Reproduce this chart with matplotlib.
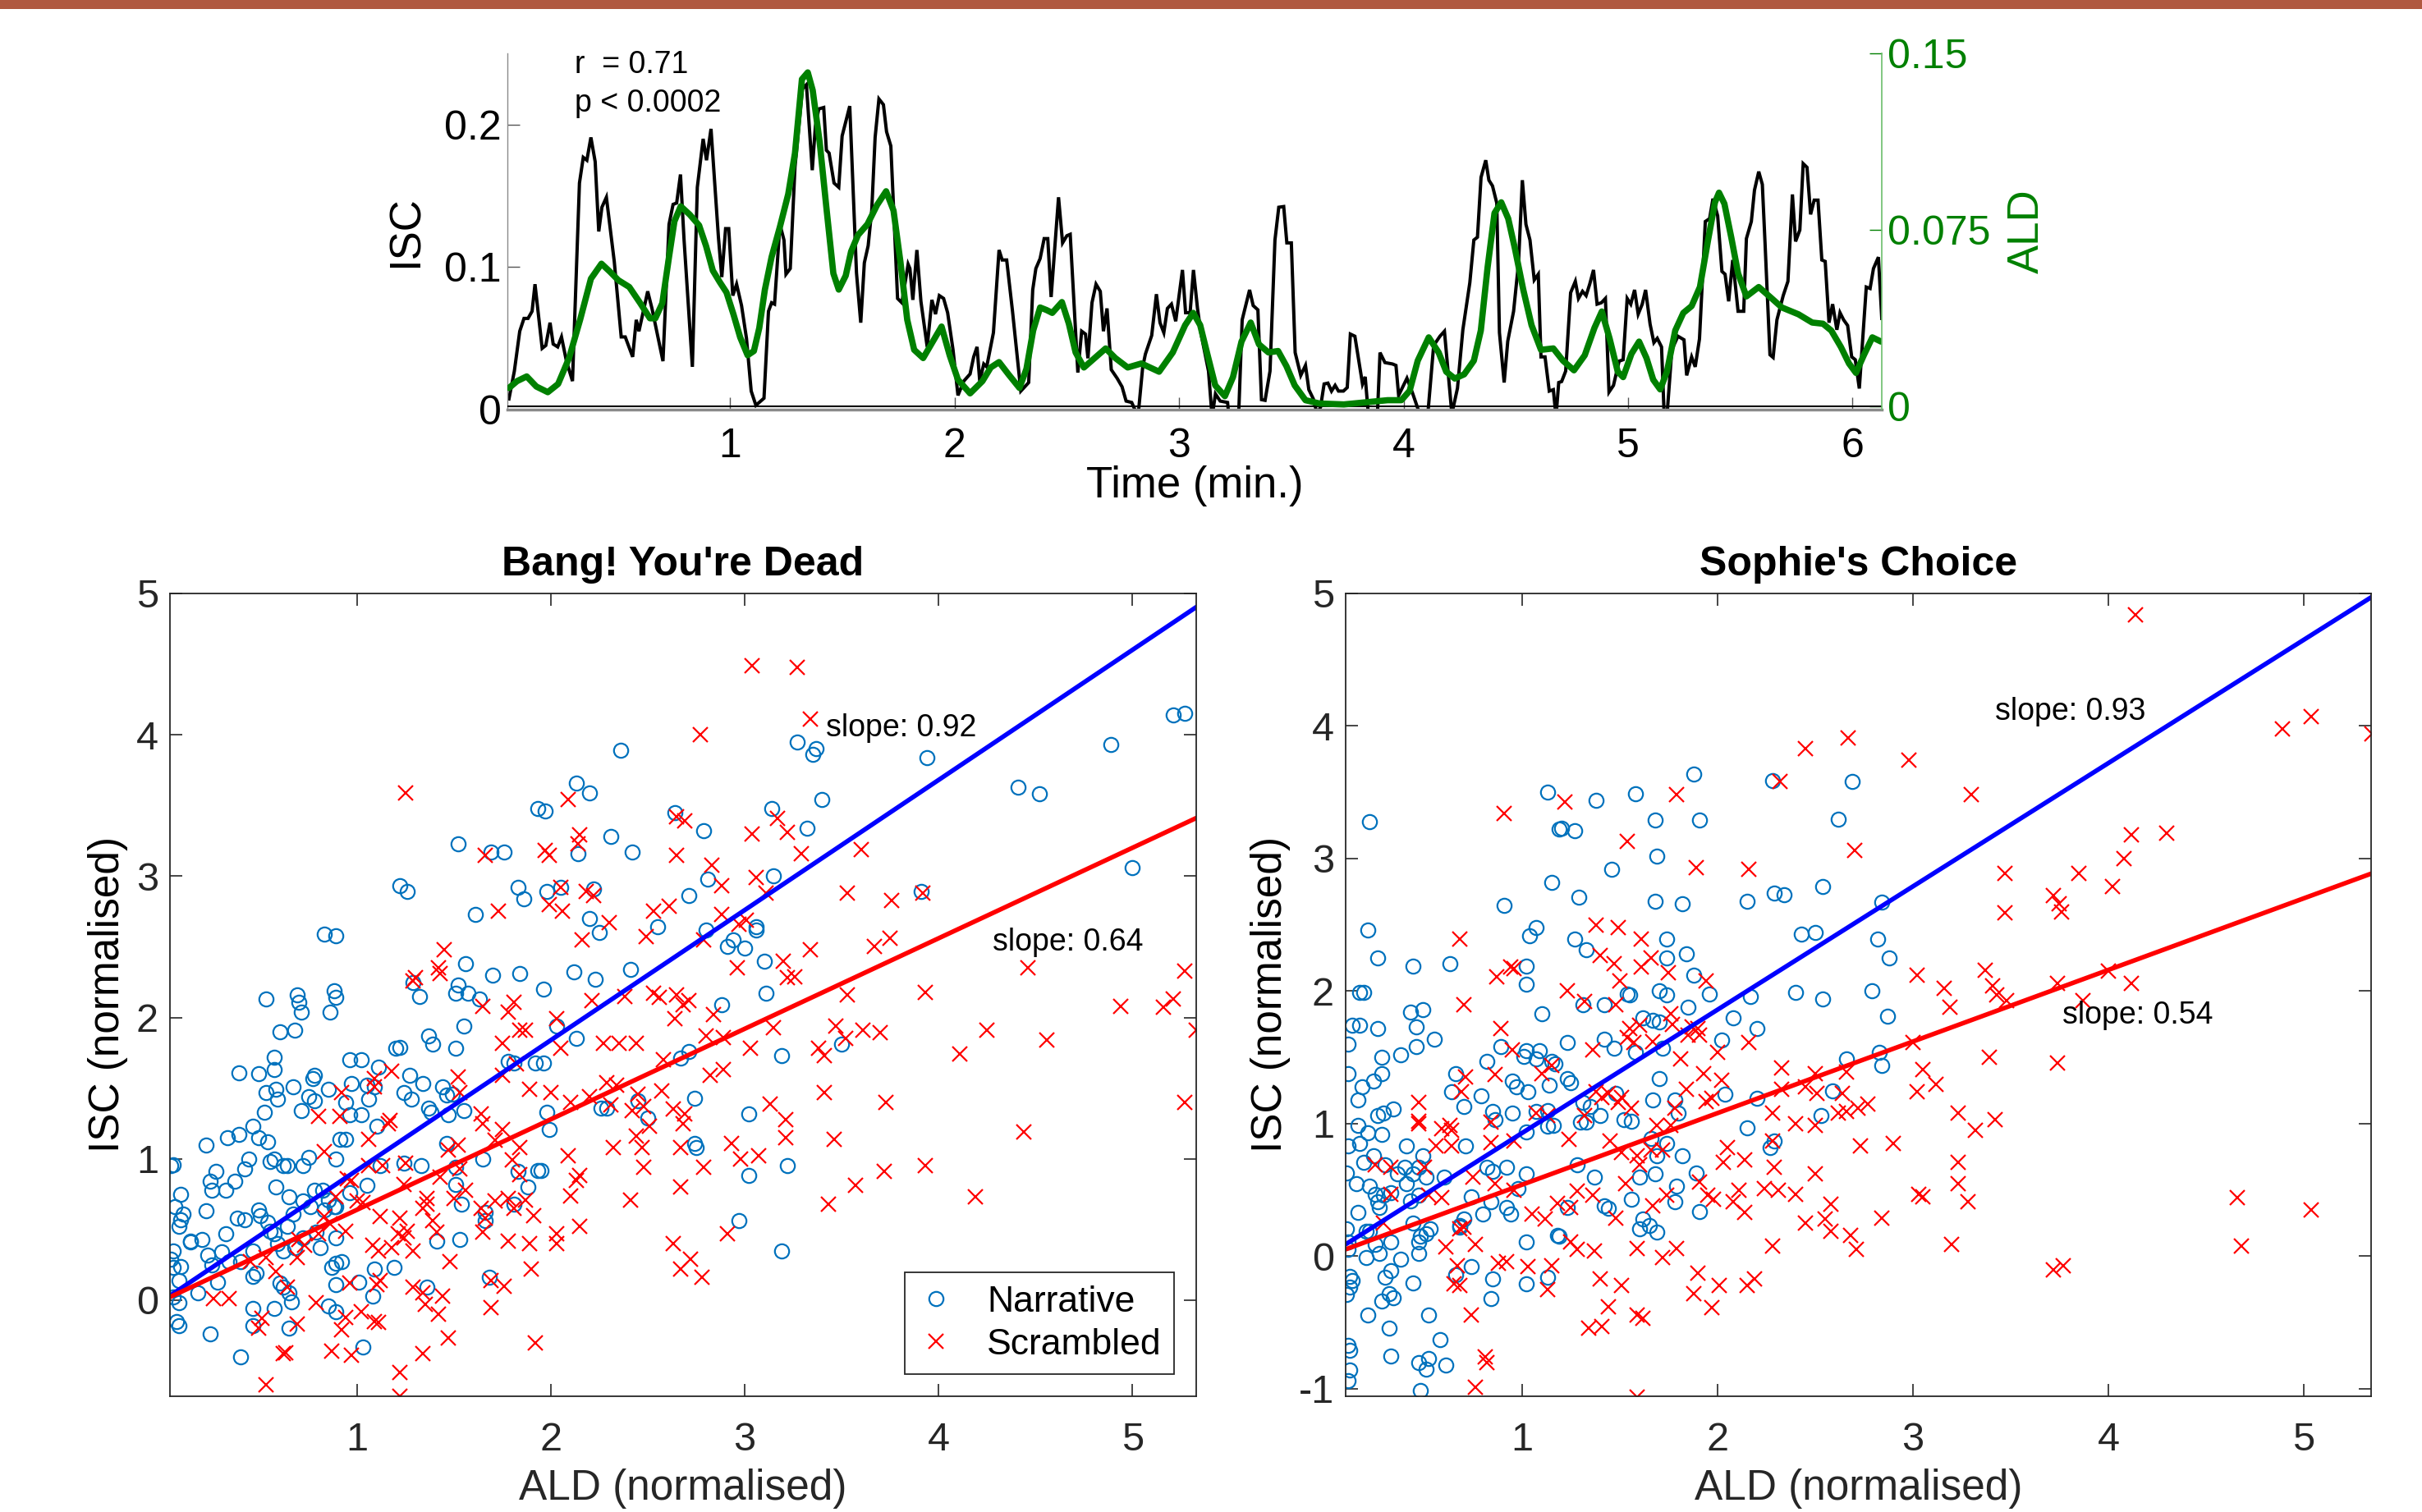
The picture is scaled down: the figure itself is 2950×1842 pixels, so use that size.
import numpy as np
import matplotlib
matplotlib.use('Agg')
import matplotlib.pyplot as plt
from matplotlib.patches import Rectangle

plt.rcParams['font.family'] = ['Liberation Sans', 'DejaVu Sans']

# ---------------- top panel: ISC and ALD time courses (time in minutes) ----------------
isc_trace = np.array([
    (0.015,0.0075),(0.039,0.027),(0.063,0.055),(0.082,0.064),(0.100,0.064),(0.118,0.069),(0.131,0.088),
    (0.163,0.043),(0.179,0.045),(0.198,0.061),(0.212,0.046),(0.232,0.044),(0.249,0.051),(0.271,0.034),
    (0.298,0.020),(0.329,0.159),(0.346,0.177),(0.362,0.175),(0.380,0.191),(0.399,0.174),(0.415,0.125),
    (0.429,0.142),(0.449,0.149),(0.484,0.104),(0.515,0.051),(0.533,0.051),(0.566,0.037),(0.582,0.063),
    (0.594,0.055),(0.612,0.068),(0.633,0.083),(0.652,0.071),(0.701,0.034),(0.728,0.130),(0.746,0.144),
    (0.762,0.145),(0.779,0.165),(0.795,0.119),(0.832,0.030),(0.854,0.156),(0.880,0.190),(0.895,0.175),
    (0.915,0.197),(0.948,0.121),(0.963,0.093),(0.980,0.127),(0.994,0.127),(1.012,0.080),(1.029,0.088),
    (1.051,0.073),(1.073,0.050),(1.094,0.013),(1.115,0.003),(1.151,0.008),(1.171,0.069),(1.185,0.075),
    (1.198,0.074),(1.222,0.130),(1.240,0.119),(1.249,0.095),(1.268,0.099),(1.289,0.170),(1.322,0.225),
    (1.340,0.228),(1.366,0.168),(1.380,0.199),(1.395,0.211),(1.417,0.212),(1.429,0.182),(1.441,0.180),
    (1.463,0.159),(1.484,0.156),(1.499,0.192),(1.533,0.213),(1.563,0.096),(1.582,0.061),(1.598,0.103),
    (1.615,0.115),(1.631,0.140),(1.646,0.191),(1.663,0.218),(1.683,0.214),(1.697,0.195),(1.716,0.185),
    (1.746,0.078),(1.765,0.075),(1.793,0.102),(1.801,0.099),(1.814,0.077),(1.832,0.112),(1.850,0.076),
    (1.878,0.044),(1.899,0.077),(1.915,0.067),(1.932,0.080),(1.951,0.078),(1.969,0.068),(1.993,0.042),
    (2.015,0.010),(2.041,0.020),(2.069,0.025),(2.085,0.037),(2.100,0.044),(2.112,0.020),(2.130,0.032),
    (2.143,0.030),(2.173,0.054),(2.198,0.112),(2.212,0.105),(2.232,0.105),(2.258,0.069),(2.295,0.013),
    (2.330,0.019),(2.348,0.084),(2.362,0.099),(2.381,0.106),(2.399,0.120),(2.415,0.120),(2.430,0.079),
    (2.463,0.149),(2.481,0.117),(2.500,0.122),(2.515,0.123),(2.549,0.026),(2.566,0.055),(2.583,0.053),
    (2.594,0.036),(2.612,0.075),(2.630,0.088),(2.649,0.083),(2.663,0.055),(2.679,0.071),(2.698,0.028),
    (2.724,0.022),(2.746,0.016),(2.764,0.006),(2.789,0.005),(2.817,-0.005),(2.838,0.030),(2.850,0.039),
    (2.878,0.052),(2.899,0.081),(2.915,0.061),(2.932,0.054),(2.948,0.071),(2.966,0.074),(2.985,0.062),
    (3.015,0.098),(3.029,0.068),(3.049,0.068),(3.064,0.098),(3.082,0.071),(3.098,0.053),(3.131,0.027),
    (3.147,-0.005),(3.162,0.011),(3.183,0.006),(3.216,0.005),(3.222,-0.005),(3.265,-0.005),(3.281,0.063),
    (3.314,0.084),(3.330,0.073),(3.351,0.070),(3.367,0.007),(3.383,0.0065),(3.405,0.027),(3.427,0.119),
    (3.444,0.142),(3.466,0.1425),(3.480,0.117),(3.500,0.117),(3.517,0.040),(3.542,0.024),(3.563,0.031),
    (3.578,0.014),(3.598,0.0075),(3.615,-0.003),(3.630,0.0017),(3.646,0.018),(3.663,0.0186),(3.679,0.013),
    (3.695,0.017),(3.710,0.013),(3.732,0.013),(3.749,0.0155),(3.763,0.053),(3.783,0.0515),(3.817,0.018),
    (3.829,0.023),(3.844,-0.005),(3.883,-0.005),(3.895,0.040),(3.917,0.033),(3.951,0.032),(3.966,0.031),
    (3.978,0.010),(4.015,0.022),(4.039,0.012),(4.076,-0.005),(4.107,-0.005),(4.134,0.045),(4.162,0.0515),
    (4.182,0.055),(4.215,-0.003),(4.240,0.015),(4.264,0.056),(4.295,0.089),(4.313,0.119),(4.329,0.121),
    (4.345,0.163),(4.366,0.175),(4.380,0.161),(4.396,0.157),(4.415,0.145),(4.427,0.054),(4.448,0.019),
    (4.464,0.048),(4.490,0.069),(4.512,0.103),(4.529,0.161),(4.545,0.130),(4.563,0.119),(4.582,0.091),
    (4.600,0.095),(4.612,0.037),(4.630,0.037),(4.649,0.013),(4.667,0.014),(4.679,-0.005),(4.691,0.019),
    (4.704,0.0197),(4.722,0.027),(4.744,0.082),(4.765,0.090),(4.779,0.078),(4.797,0.083),(4.813,0.080),
    (4.829,0.088),(4.846,0.098),(4.862,0.074),(4.881,0.075),(4.899,0.078),(4.915,0.0123),(4.935,0.017),
    (4.960,0.034),(4.978,0.035),(4.996,0.078),(5.012,0.074),(5.029,0.084),(5.045,0.067),(5.063,0.074),
    (5.078,0.084),(5.098,0.060),(5.115,0.047),(5.130,0.050),(5.149,0.044),(5.161,-0.005),(5.173,-0.005),
    (5.195,0.042),(5.222,0.0515),(5.249,0.049),(5.261,0.024),(5.283,0.037),(5.299,0.030),(5.318,0.0496),
    (5.344,0.132),(5.363,0.134),(5.378,0.148),(5.399,0.136),(5.418,0.097),(5.432,0.095),(5.448,0.076),
    (5.466,0.105),(5.490,0.069),(5.515,0.069),(5.527,0.120),(5.549,0.132),(5.563,0.154),(5.582,0.167),
    (5.598,0.158),(5.610,0.117),(5.632,0.0385),(5.646,0.0366),(5.663,0.063),(5.691,0.080),(5.712,0.090),
    (5.732,0.151),(5.746,0.118),(5.765,0.126),(5.780,0.1726),(5.797,0.170),(5.813,0.137),(5.829,0.147),
    (5.846,0.147),(5.863,0.105),(5.878,0.104),(5.895,0.061),(5.911,0.074),(5.930,0.056),(5.944,0.068),
    (5.960,0.063),(5.978,0.059),(5.996,0.037),(6.012,0.035),(6.030,0.0148),(6.061,0.086),(6.078,0.085),
    (6.093,0.099),(6.115,0.107),(6.130,0.064)])

ald_trace = np.array([
    (0.015,0.0078),(0.051,0.0107),(0.094,0.0127),(0.137,0.0084),(0.188,0.006),(0.234,0.0095),(0.283,0.0206),
    (0.332,0.0368),(0.380,0.0542),(0.427,0.0606),(0.466,0.0571),(0.502,0.0536),(0.551,0.0507),(0.600,0.0438),
    (0.643,0.0374),(0.667,0.0374),(0.698,0.0438),(0.728,0.0635),(0.752,0.0786),(0.780,0.085),(0.820,0.0815),
    (0.862,0.0769),(0.893,0.0681),(0.923,0.0577),(0.954,0.0528),(0.984,0.0484),(1.015,0.0391),(1.045,0.0293),
    (1.078,0.0217),(1.106,0.0235),(1.130,0.0333),(1.155,0.0496),(1.185,0.0635),(1.222,0.0763),(1.259,0.0902),
    (1.289,0.1076),(1.320,0.139),(1.346,0.1419),(1.368,0.1343),(1.399,0.1123),(1.429,0.0844),(1.460,0.0565),
    (1.484,0.0496),(1.515,0.0555),(1.539,0.0658),(1.570,0.0728),(1.612,0.0774),(1.655,0.0856),(1.695,0.0914),
    (1.728,0.0832),(1.759,0.0612),(1.789,0.0368),(1.820,0.024),(1.860,0.0205),(1.899,0.0269),(1.942,0.0339),
    (1.978,0.0217),(2.015,0.0113),(2.069,0.0055),(2.124,0.0107),(2.161,0.0165),(2.198,0.0188),(2.240,0.0136),
    (2.289,0.0078),(2.320,0.0159),(2.350,0.0322),(2.381,0.042),(2.410,0.0409),(2.435,0.0397),(2.478,0.0443),
    (2.509,0.0351),(2.539,0.0229),(2.576,0.0165),(2.618,0.02),(2.673,0.0246),(2.716,0.0205),(2.771,0.0165),
    (2.832,0.0182),(2.911,0.0147),(2.972,0.0229),(3.027,0.0345),(3.063,0.0397),(3.094,0.0345),(3.124,0.0229),
    (3.161,0.0089),(3.204,0.0043),(3.240,0.0124),(3.278,0.0275),(3.319,0.0356),(3.356,0.0263),(3.398,0.0229),
    (3.441,0.0235),(3.478,0.0171),(3.515,0.0089),(3.563,0.0026),(3.625,0.0012),(3.734,0.0008),(3.832,0.0017),
    (3.929,0.0026),(3.990,0.0026),(4.027,0.0066),(4.063,0.0194),(4.112,0.0293),(4.156,0.0229),(4.190,0.0147),
    (4.228,0.0118),(4.270,0.0136),(4.313,0.0194),(4.344,0.0322),(4.374,0.0589),(4.405,0.0821),(4.435,0.0867),
    (4.466,0.0798),(4.496,0.067),(4.533,0.0496),(4.570,0.0345),(4.612,0.0240),(4.667,0.0246),(4.710,0.0194),
    (4.759,0.0153),(4.807,0.0217),(4.850,0.0333),(4.883,0.0403),(4.918,0.0287),(4.954,0.0147),(4.978,0.0124),
    (5.015,0.0223),(5.049,0.0275),(5.082,0.0205),(5.112,0.0113),(5.143,0.0072),(5.173,0.0147),(5.210,0.0322),
    (5.246,0.0397),(5.283,0.0426),(5.320,0.0507),(5.356,0.0705),(5.387,0.0867),(5.405,0.0908),(5.429,0.0861),
    (5.460,0.0716),(5.490,0.0565),(5.527,0.0467),(5.582,0.0507),(5.637,0.0461),(5.685,0.042),(5.759,0.0391),
    (5.820,0.0356),(5.868,0.0351),(5.905,0.0322),(5.948,0.0252),(5.984,0.0182),(6.015,0.0142),(6.050,0.0217),
    (6.088,0.0293),(6.127,0.0275)])

time_ticks = [1, 2, 3, 4, 5, 6]
isc_ticks = [0, 0.1, 0.2]
isc_ticklabels = ['0', '0.1', '0.2']
ald_ticks = [0, 0.075, 0.15]
ald_ticklabels = ['0', '0.075', '0.15']
stats_text = ['r  = 0.71', 'p < 0.0002']

# ---------------- bottom-left: Bang! You're Dead ----------------
bang_narrative = np.array([
    (5.27,4.15),(5.21,4.14),(4.89,3.93),(3.94,3.84),(4.41,3.63),(4.52,3.58),(5.00,3.06),(2.36,3.89),(3.27,3.95),
    (3.35,3.86),(3.37,3.90),(3.40,3.54),(3.14,3.48),(3.32,3.34),(3.15,3.00),(2.79,3.32),(2.64,3.45),(2.81,2.98),
    (2.71,2.86),(2.80,2.62),(2.91,2.50),(2.94,2.55),(3.00,2.49),(3.06,2.64),(3.06,2.62),(3.10,2.40),(3.11,2.17),
    (2.88,2.09),(3.22,0.95),(3.19,1.73),(3.02,1.32),(3.02,0.88),(2.97,0.56),(3.19,0.35),(3.50,1.81),(3.91,2.89),
    (2.13,3.66),(2.20,3.59),(1.93,3.48),(1.97,3.46),(1.52,3.23),(1.69,3.17),(1.76,3.17),(2.31,3.28),(2.42,3.17),
    (2.14,3.16),(1.22,2.93),(1.26,2.89),(1.83,2.92),(1.86,2.84),(1.98,2.89),(2.05,2.92),(2.22,2.91),(1.61,2.73),
    (2.20,2.70),(2.25,2.60),(2.55,2.64),(0.83,2.59),(0.89,2.58),(1.56,2.38),(2.41,2.34),(1.70,2.30),(1.84,2.31),
    (2.12,2.32),(2.23,2.27),(1.29,2.25),(1.52,2.23),(1.51,2.17),(1.57,2.17),(1.63,2.13),(1.32,2.15),(1.96,2.20),
    (0.53,2.13),(0.88,2.19),(0.89,2.14),(0.69,2.16),(0.70,2.11),(0.71,2.04),(0.86,2.04),(1.55,1.94),(2.03,1.94),
    (0.60,1.90),(0.68,1.91),(1.37,1.87),(1.39,1.81),(1.51,1.78),(1.20,1.78),(1.22,1.79),(1.11,1.65),(1.02,1.70),
    (0.96,1.70),(1.81,1.68),(1.92,1.68),(2.13,1.85),(0.39,1.61),(0.49,1.60),(0.57,1.72),(0.57,1.63),(0.53,1.47),
    (0.58,1.49),(0.67,1.51),(0.77,1.57),(0.78,1.59),(0.85,1.49),(0.75,1.44),(0.78,1.41),(0.52,1.33),(0.59,1.42),
    (0.71,1.34),(0.94,1.40),(0.97,1.53),(0.96,1.31),(1.05,1.52),(1.09,1.51),(1.02,1.31),(1.06,1.42),(1.10,1.23),
    (1.24,1.47),(1.27,1.59),(1.34,1.53),(1.28,1.42),(1.37,1.36),(1.44,1.51),(1.46,1.45),(1.49,1.46),(1.55,1.34),
    (1.47,1.31),(1.33,0.95),(1.46,1.11),(1.51,0.94),(1.51,0.82),(1.38,1.33),(1.24,0.97),(1.12,0.95),(1.05,0.81),
    (0.96,0.76),(0.88,0.66),(0.89,0.66),(0.85,0.71),(0.83,0.64),(0.76,0.66),(0.72,0.70),(0.67,0.61),(0.64,0.52),
    (0.57,0.47),(0.54,0.55),(0.49,0.64),(0.50,0.60),(0.42,0.57),(0.38,0.58),(0.32,0.47),(0.22,0.63),(0.09,0.75),
    (0.06,0.66),(0.10,0.61),(0.09,0.57),(0.14,0.41),(0.04,0.95),(0.05,0.96),(0.22,1.10),(0.27,0.91),(0.24,0.84),
    (0.25,0.78),(0.32,0.78),(0.37,0.84),(0.42,0.93),(0.46,1.23),(0.49,1.15),(0.39,1.17),(0.33,1.15),(0.44,1.00),
    (0.54,1.12),(0.55,0.98),(0.57,1.00),(0.62,0.95),(0.64,0.95),(0.58,0.80),(0.65,0.73),(0.72,0.95),(0.75,1.01),
    (0.78,0.78),(0.82,0.78),(0.89,1.00),(0.91,1.14),(0.94,1.14),(0.89,0.44),(0.79,0.48),(0.81,0.37),(0.72,0.44),
    (0.68,0.37),(0.62,0.35),(0.59,0.40),(0.55,0.49),(0.46,0.35),(0.40,0.27),(0.34,0.27),(0.30,0.34),(0.25,0.25),
    (0.23,0.32),(0.20,0.43),(0.14,0.42),(0.08,0.52),(0.05,0.35),(0.04,0.29),(0.05,0.23),(0.09,0.24),(0.08,0.14),
    (0.05,0.02),(0.08,-0.02),(0.07,-0.15),(0.08,-0.18),(0.18,0.05),(0.28,0.13),(0.24,-0.24),(0.40,-0.40),
    (0.46,0.17),(0.48,0.19),(0.46,-0.06),(0.46,-0.18),(0.57,-0.06),(0.60,0.12),(0.62,0.09),(0.65,0.05),
    (0.65,-0.20),(0.66,-0.01),(0.85,-0.04),(0.89,0.11),(0.89,-0.08),(0.87,0.23),(0.89,0.26),(0.92,0.27),
    (1.01,0.13),(1.03,-0.33),(1.08,0.03),(1.09,0.22),(1.19,0.23),(1.36,0.09),(1.41,0.42),(1.53,0.43),(1.54,0.68),
    (1.65,1.00),(1.66,0.62),(1.66,0.56),(1.68,0.16),(1.81,0.68),(1.83,0.91),(1.88,0.80),(1.93,0.92),(1.95,0.92),
    (1.99,1.21),(1.98,1.33),(1.96,1.68),(1.78,1.69),(2.29,1.36),(2.26,1.36),(2.45,1.41),(2.50,1.29),(2.67,1.71),
    (2.71,1.76),(2.74,1.43),(2.74,1.11),(2.75,1.08)])

bang_scrambled = np.array([
    (3.04,4.49),(3.27,4.48),(3.34,4.11),(2.77,4.00),(1.25,3.59),(2.09,3.54),(2.65,3.42),(2.69,3.39),(3.17,3.41),
    (3.04,3.30),(3.22,3.31),(3.29,3.16),(3.60,3.19),(2.15,3.29),(2.14,3.23),(1.97,3.18),(1.99,3.15),(1.66,3.15),
    (2.65,3.15),(2.83,3.08),(3.06,2.99),(3.11,2.88),(2.88,2.93),(2.05,2.92),(2.18,2.89),(2.22,2.86),(1.73,2.75),
    (1.99,2.80),(2.06,2.75),(2.53,2.75),(2.61,2.79),(3.53,2.88),(3.76,2.83),(3.92,2.88),(2.30,2.67),(2.49,2.57),
    (2.16,2.55),(2.79,2.55),(2.88,2.73),(2.97,2.66),(3.01,2.69),(3.34,2.48),(3.67,2.50),(3.75,2.56),(1.45,2.48),
    (1.42,2.35),(1.43,2.31),(1.30,2.28),(2.96,2.35),(3.20,2.40),(3.22,2.28),(3.26,2.29),(4.46,2.35),(5.27,2.33),
    (1.65,2.08),(1.81,2.11),(1.78,2.04),(2.21,2.12),(2.53,2.17),(2.56,2.14),(2.65,2.16),(2.68,2.09),(2.71,2.12),
    (2.38,2.15),(2.64,1.99),(2.84,2.02),(2.03,1.99),(3.53,2.16),(3.93,2.18),(4.94,2.08),(5.16,2.07),(5.21,2.13),
    (5.33,1.91),(4.25,1.91),(4.56,1.84),(4.11,1.74),(3.47,1.94),(3.61,1.91),(3.70,1.89),(3.15,1.93),(3.38,1.78),
    (3.41,1.73),(3.52,1.85),(3.03,1.78),(2.80,1.87),(2.89,1.86),(2.35,1.82),(2.44,1.82),(2.27,1.82),(2.05,1.78),
    (1.84,1.91),(1.87,1.91),(1.75,1.82),(1.82,1.67),(1.89,1.49),(1.75,1.59),(1.52,1.58),(1.53,1.47),(1.09,1.51),
    (2.89,1.63),(2.82,1.59),(2.58,1.70),(2.57,1.48),(2.45,1.46),(2.34,1.52),(2.29,1.54),(2.31,1.38),(2.63,1.35),
    (2.48,1.37),(2.42,1.34),(2.20,1.44),(2.10,1.40),(2.00,1.47),(3.41,1.47),(3.13,1.39),(3.73,1.40),(5.27,1.40),
    (2.69,1.32),(2.68,1.25),(2.51,1.23),(3.21,1.28),(3.21,1.15),(3.46,1.14),(4.44,1.19),(2.93,1.11),(2.98,1.00),
    (3.07,1.02),(2.79,0.94),(2.67,1.08),(2.47,1.08),(2.48,0.94),(2.32,1.08),(2.44,1.16),(2.09,1.02),(2.15,0.88),
    (2.13,0.85),(2.10,0.74),(2.15,0.52),(2.03,0.47),(2.03,0.40),(1.89,0.40),(1.90,0.22),(1.78,0.42),(1.76,0.10),
    (1.69,-0.05),(1.69,0.14),(1.65,0.48),(1.66,0.58),(1.81,0.65),(1.91,0.60),(1.87,0.71),(1.78,0.72),(1.71,0.70),
    (1.64,0.65),(2.41,0.71),(2.63,0.40),(2.67,0.22),(2.72,0.29),(2.78,0.16),(2.91,0.47),(2.67,0.80),(3.57,0.81),
    (3.72,0.91),(3.93,0.95),(4.19,0.73),(3.43,0.68),(1.92,-0.30),(1.47,-0.27),(1.34,-0.38),(1.22,-0.51),
    (1.22,-0.68),(0.53,-0.60),(0.63,-0.37),(0.62,-0.38),(0.87,-0.36),(0.97,-0.39),(0.92,-0.21),(0.94,-0.12),
    (1.02,-0.08),(1.09,-0.15),(1.11,-0.16),(1.10,0.11),(1.12,0.14),(0.96,0.12),(0.79,-0.02),(0.69,-0.17),
    (0.49,-0.20),(0.51,-0.13),(0.58,0.20),(0.64,0.09),(0.69,0.30),(0.70,0.43),(0.73,0.39),(0.53,0.30),(0.83,0.59),
    (0.80,0.47),(0.86,0.54),(0.94,0.49),(1.03,0.69),(1.00,0.70),(1.12,0.59),(1.22,0.58),(1.08,0.39),(1.11,0.35),
    (1.18,0.37),(1.24,0.44),(1.26,0.49),(1.21,0.47),(1.29,0.35),(1.29,0.09),(1.34,0.05),(1.35,-0.03),(1.42,-0.10),
    (1.44,0.03),(1.41,0.48),(1.36,0.68),(1.34,0.65),(1.48,0.27),(1.50,0.72),(1.53,0.93),(1.52,1.10),(1.47,1.06),
    (1.43,0.87),(1.56,0.78),(1.64,1.32),(1.65,1.25),(1.71,1.13),(1.75,1.21),(1.80,0.99),(1.84,1.08),(1.84,0.89),
    (1.17,1.27),(1.16,1.25),(1.13,0.95),(1.24,0.82),(1.06,0.95),(1.06,1.14),(0.83,1.05),(0.80,1.30),(0.91,1.30),
    (0.89,0.73),(0.95,0.86),(0.97,0.85),(0.92,1.47),(1.09,1.57),(1.18,1.62),(1.29,2.26),(1.25,0.97),(1.36,0.72),
    (1.39,0.56),(0.45,0.27),(0.34,0.01),(0.26,0.01)])

# ---------------- bottom-right: Sophie's Choice ----------------
sophie_narrative = np.array([
    (0.22,3.28),(1.13,3.50),(1.38,3.44),(1.58,3.49),(1.88,3.64),(2.28,3.59),(2.69,3.58),(2.62,3.30),(1.68,3.29),
    (1.91,3.29),(1.19,3.22),(1.20,3.23),(1.27,3.21),(1.69,3.02),(1.46,2.92),(1.15,2.82),(1.29,2.71),(0.91,2.65),
    (1.68,2.68),(1.82,2.66),(2.15,2.68),(2.29,2.74),(2.34,2.73),(2.54,2.79),(2.84,2.67),(0.21,2.46),(1.07,2.48),
    (1.04,2.42),(1.27,2.39),(1.33,2.31),(1.74,2.39),(1.74,2.25),(1.84,2.28),(2.43,2.43),(2.50,2.44),(2.82,2.39),
    (2.88,2.25),(0.26,2.25),(0.44,2.19),(0.63,2.21),(1.02,2.19),(1.02,2.05),(0.17,1.99),(0.19,1.99),(1.88,2.12),
    (1.96,1.98),(1.70,2.00),(1.74,1.97),(1.55,1.97),(1.42,1.90),(1.31,1.90),(1.10,1.83),(0.43,1.84),(0.49,1.86),
    (0.46,1.73),(0.13,1.74),(0.17,1.74),(0.26,1.72),(0.55,1.64),(0.46,1.58),(0.38,1.52),(0.28,1.50),(0.11,1.60),
    (0.11,1.38),(0.18,1.28),(0.24,1.32),(0.28,1.38),(0.16,1.18),(0.66,1.38),(0.64,1.24),(0.70,1.13),(0.79,1.21),
    (0.82,1.47),(0.89,1.58),(1.02,1.55),(1.01,1.51),(1.09,1.55),(1.07,1.49),(1.15,1.47),(1.17,1.45),(1.23,1.61),
    (1.14,1.29),(1.23,1.34),(1.25,1.31),(1.03,1.24),(0.95,1.32),(0.97,1.28),(1.13,1.10),(1.13,0.98),(1.16,0.99),
    (1.07,1.09),(0.95,1.08),(1.02,0.94),(0.85,1.09),(0.86,1.03),(1.31,1.16),(1.35,1.13),(1.33,1.01),(1.30,1.01),
    (1.48,1.23),(1.40,1.06),(1.52,1.03),(1.56,1.02),(1.42,1.64),(1.47,1.57),(1.54,1.98),(1.58,1.54),(1.62,1.80),
    (1.70,1.77),(1.67,1.78),(1.72,1.57),(1.70,1.34),(1.67,1.18),(1.66,0.89),(1.69,0.76),(1.68,0.62),(1.74,0.85),
    (1.78,1.18),(1.80,1.08),(1.82,0.76),(1.79,0.53),(1.89,0.63),(1.91,0.34),(1.85,1.88),(2.02,1.63),(2.04,1.22),
    (2.08,1.80),(2.17,1.96),(2.20,1.72),(2.15,0.97),(2.20,1.19),(2.27,0.82),(2.29,0.87),(2.40,1.99),(2.54,1.94),
    (2.59,1.25),(2.53,1.06),(2.66,1.49),(2.79,2.00),(2.87,1.81),(2.83,1.54),(2.84,1.44),(0.11,0.83),(0.10,0.63),
    (0.15,0.55),(0.16,0.33),(0.10,0.21),(0.11,0.11),(0.11,0.05),(0.19,0.71),(0.17,0.85),(0.16,0.99),(0.21,0.93),
    (0.24,0.76),(0.28,0.92),(0.26,1.06),(0.29,1.08),(0.34,1.11),(0.30,0.69),(0.22,0.53),(0.25,0.47),(0.26,0.41),
    (0.29,0.46),(0.33,0.48),(0.27,0.37),(0.22,0.19),(0.20,0.19),(0.25,0.09),(0.33,0.11),(0.20,-0.01),(0.27,0.02),
    (0.36,0.62),(0.40,0.67),(0.41,0.83),(0.44,0.62),(0.47,0.67),(0.49,0.76),(0.51,0.60),(0.41,0.55),(0.43,0.42),
    (0.47,0.46),(0.44,0.25),(0.47,0.11),(0.51,0.17),(0.53,0.21),(0.48,0.15),(0.38,-0.02),(0.47,0.02),(0.60,0.60),
    (0.71,0.83),(0.74,0.45),(0.70,0.28),(0.68,0.23),(0.80,0.32),(0.82,0.67),(0.85,0.64),(0.84,0.41),(0.92,0.37),
    (0.92,0.67),(1.02,0.62),(0.98,0.51),(0.94,0.32),(1.02,0.11),(1.19,0.15),(1.23,0.37),(1.28,0.69),(1.37,0.60),
    (1.42,0.38),(1.44,0.36),(1.56,0.43),(1.60,0.60),(1.60,0.21),(1.62,0.28),(1.65,0.23),(1.69,0.18),(1.78,0.41),
    (0.12,-0.15),(0.12,-0.23),(0.10,-0.29),(0.13,-0.18),(0.21,-0.44),(0.28,-0.34),(0.30,-0.16),(0.33,-0.11),
    (0.32,-0.28),(0.34,-0.31),(0.32,-0.54),(0.33,-0.75),(0.11,-0.67),(0.12,-0.71),(0.12,-0.86),(0.11,-0.94),
    (0.47,-0.80),(0.51,-0.85),(0.52,-0.77),(0.48,-1.01),(0.52,-0.44),(0.58,-0.63),(0.61,-0.82),(0.44,-0.20),
    (0.66,-0.14),(0.74,-0.08),(0.85,-0.17),(0.84,-0.32),(1.02,-0.21),(1.13,-0.16),(1.18,0.16),(0.68,0.22)])

sophie_scrambled = np.array([
    (4.14,4.84),(4.89,3.98),(5.04,4.07),(5.35,3.94),(2.67,3.91),(2.45,3.83),(2.98,3.74),(2.32,3.58),(3.30,3.48),
    (1.79,3.48),(1.22,3.43),(0.91,3.34),(1.54,3.13),(2.70,3.06),(4.12,3.18),(4.30,3.19),(4.08,3.00),(3.85,2.89),
    (3.47,2.89),(4.02,2.79),(3.72,2.72),(3.75,2.66),(3.76,2.60),(3.47,2.59),(1.89,2.93),(2.16,2.92),(1.38,2.50),
    (1.49,2.48),(1.61,2.39),(1.40,2.27),(1.47,2.21),(1.66,2.25),(1.61,2.18),(1.75,2.14),(1.50,2.08),(1.94,2.08),
    (0.94,2.18),(0.96,2.17),(0.87,2.11),(0.68,2.39),(0.70,1.90),(1.23,2.00),(1.32,1.92),(1.48,1.90),(1.76,1.83),
    (1.77,1.75),(1.87,1.73),(1.90,1.72),(1.85,1.67),(1.91,1.67),(1.55,1.72),(1.54,1.65),(1.60,1.74),(1.57,1.61),
    (1.67,1.62),(1.36,1.56),(0.89,1.72),(0.95,1.56),(0.86,1.37),(1.10,1.38),(1.15,1.44),(0.71,1.35),(0.69,1.24),
    (0.59,0.96),(0.63,0.99),(0.64,0.95),(0.64,0.83),(0.47,1.00),(0.47,1.16),(0.56,0.83),(0.84,1.01),(0.84,0.86),
    (0.96,0.87),(1.07,1.08),(1.13,1.06),(1.24,0.88),(1.32,1.06),(1.38,1.24),(1.41,1.20),(1.44,1.23),(1.49,1.16),
    (1.51,1.20),(1.56,1.12),(1.45,0.87),(1.51,0.78),(1.59,0.76),(1.66,0.80),(1.69,0.99),(1.72,0.80),(1.76,0.99),
    (1.78,1.12),(1.84,1.26),(1.93,1.38),(1.94,1.17),(1.97,1.19),(2.02,1.33),(2.00,1.54),(1.81,1.49),(2.16,1.61),
    (2.33,1.42),(2.33,1.26),(2.45,1.28),(2.50,1.38),(2.51,1.23),(2.64,1.23),(2.66,1.39),(2.62,1.08),(2.66,1.09),
    (2.72,1.12),(2.77,1.15),(2.28,1.08),(2.40,1.00),(2.50,0.99),(2.05,0.82),(2.03,0.71),(1.91,0.56),(1.95,0.46),
    (1.98,0.43),(2.11,0.50),(2.08,0.41),(2.14,0.33),(2.24,0.51),(2.29,0.67),(2.31,0.50),(2.40,0.47),(2.28,0.87),
    (2.14,0.73),(2.50,0.62),(2.58,0.39),(2.55,0.28),(2.45,0.25),(2.58,0.19),(2.68,0.16),(2.71,0.05),(2.73,0.83),
    (2.84,0.29),(2.90,0.85),(3.00,1.61),(3.02,1.24),(3.05,1.41),(3.12,1.30),(3.02,2.12),(3.16,2.02),(3.19,1.88),
    (3.23,1.08),(3.23,0.71),(3.23,0.55),(3.28,0.41),(3.32,0.95),(3.03,0.47),(3.05,0.45),(3.20,0.09),(3.37,2.16),
    (3.41,2.04),(3.43,1.97),(3.48,1.93),(3.39,1.50),(3.42,1.03),(3.74,2.06),(3.87,1.93),(4.00,2.15),(4.12,2.06),
    (3.74,1.46),(4.66,0.44),(4.68,0.08),(5.04,0.35),(3.72,-0.10),(3.77,-0.07),(2.28,0.08),(1.90,-0.13),
    (1.88,-0.28),(2.01,-0.22),(1.97,-0.39),(2.15,-0.22),(2.19,-0.17),(1.79,0.06),(1.72,-0.01),(1.59,0.06),
    (1.51,-0.22),(1.40,-0.17),(1.44,-0.38),(1.34,-0.54),(1.41,-0.53),(1.59,-0.44),(1.62,-0.47),(1.59,-1.06),
    (1.37,0.04),(1.28,0.05),(1.25,0.11),(1.15,-0.07),(1.13,-0.25),(1.03,-0.08),(0.92,-0.04),(0.88,-0.05),
    (0.74,-0.44),(0.81,-0.76),(0.82,-0.80),(0.76,-0.99),(0.67,-0.07),(0.68,-0.22),(0.65,-0.21),(0.68,0.21),
    (0.70,0.22),(0.61,0.07),(0.76,0.09),(0.59,0.44),(0.52,0.46),(0.75,0.60),(0.86,0.55),(0.96,0.50),(1.05,0.32),
    (1.12,0.28),(1.18,0.40),(1.25,0.37),(1.28,0.49),(1.36,0.46),(1.48,0.29),(1.53,0.55),(1.60,0.69),(1.67,0.38),
    (1.74,0.46),(0.50,0.67),(0.47,1.02),(0.25,0.69),(0.33,0.67),(0.29,0.25),(0.33,0.47)])

panel_titles = ["Bang! You're Dead", "Sophie's Choice"]
fit_slopes = {'Bang': (0.92, 0.64), 'Sophie': (0.93, 0.54)}
fit_intercepts = {'Bang': (0.0, 0.0), 'Sophie': (0.0, 0.0)}
slope_labels = {'Bang': [(3.42, 4.05, 'slope: 0.92'), (4.28, 2.53, 'slope: 0.64')],
                'Sophie': [(3.42, 4.11, 'slope: 0.93'), (3.765, 1.82, 'slope: 0.54')]}
series_names = ['Narrative', 'Scrambled']

# ---------------- figure ----------------
W, H = 2950, 1842
fig = plt.figure(figsize=(W / 100, H / 100), dpi=100)
fig.add_artist(Rectangle((0, 1 - 11 / H), 1, 11 / H, transform=fig.transFigure,
                         facecolor='#B0583F', edgecolor='none'))

GREEN = '#008000'
AXC = '#262626'

def px_axes(left, top, right, bottom):
    return fig.add_axes([left / W, 1 - bottom / H, (right - left) / W, (bottom - top) / H])

# top panel
ax = px_axes(618, 65, 2292, 499)
ax.plot(isc_trace[:, 0], isc_trace[:, 1], color='black', lw=2.9, solid_joinstyle='miter')
ax.set_xlim(0.008, 6.13)
ax.set_ylim(0, 0.25)
ax.set_xticks(time_ticks)
ax.set_xticklabels([str(t) for t in time_ticks])
ax.set_yticks(isc_ticks)
ax.set_yticklabels(isc_ticklabels)
ax.tick_params(axis='both', direction='in', length=11, width=1, labelsize=36, colors='black')
ax.tick_params(axis='x', pad=16, color='#555555')
ax.tick_params(axis='y', pad=5, color='#555555')
for s in ['top', 'right']:
    ax.spines[s].set_visible(False)
ax.spines['left'].set_color('#8a8a8a')
ax.spines['left'].set_linewidth(1.0)
ax.spines['bottom'].set_color('#8a8a8a')
ax.spines['bottom'].set_linewidth(2.5)
ax.set_xlabel('Time (min.)', fontsize=38, labelpad=0)
ax.set_ylabel('ISC', fontsize=38, labelpad=16)
ax.text(0.049, 0.968, stats_text[0], transform=ax.transAxes, fontsize=27, va='center', ha='left')
ax.text(0.049, 0.859, stats_text[1], transform=ax.transAxes, fontsize=27, va='center', ha='left')

ax2 = ax.twinx()
ax2.axhline(0, color='black', lw=1.5)
ax2.plot(ald_trace[:, 0], ald_trace[:, 1], color=GREEN, lw=5.5, solid_joinstyle='round',
         solid_capstyle='round')
ax2.set_ylim(-0.0014, 0.15)
ax2.set_xlim(0.008, 6.13)
ax2.set_yticks(ald_ticks)
ax2.set_yticklabels(ald_ticklabels)
ax2.tick_params(axis='y', direction='in', length=11, width=1, labelsize=36, colors=GREEN, pad=5)
for s in ['top', 'left', 'bottom']:
    ax2.spines[s].set_visible(False)
ax2.spines['right'].set_color('#6cbf6c')
ax2.spines['right'].set_linewidth(1.2)
ax2.set_ylabel('ALD', fontsize=38, color=GREEN, labelpad=14)

# bottom panels
def scatter_panel(axp, narr, scr, slopes, intercepts, labels, xlim, ylim, yticks, title, legend):
    h1, = axp.plot(narr[:, 0], narr[:, 1], 'o', ms=12.5, mfc='none', mec='#0072BD', mew=1.6,
                   linestyle='none', label=series_names[0])
    h2, = axp.plot(scr[:, 0], scr[:, 1], 'x', ms=12.5, color='#FF0000', mew=1.6,
                   linestyle='none', label=series_names[1])
    xs = np.array(xlim)
    axp.plot(xs, slopes[0] * xs + intercepts[0], color='#0000FF', lw=4)
    axp.plot(xs, slopes[1] * xs + intercepts[1], color='#FF0000', lw=4)
    for (tx, ty, s) in labels:
        axp.text(tx, ty, s, fontsize=27, va='center', ha='left', color='black')
    axp.set_xlim(*xlim)
    axp.set_ylim(*ylim)
    axp.set_xticks([1, 2, 3, 4, 5])
    axp.set_yticks(yticks)
    axp.set_yticklabels([str(v) for v in yticks])
    axp.tick_params(axis='both', direction='in', length=11, width=1.2, labelsize=35,
                    colors=AXC, top=True, right=True)
    axp.tick_params(axis='x', pad=22)
    axp.tick_params(axis='y', pad=10)
    for s in axp.spines.values():
        s.set_color(AXC)
        s.set_linewidth(1.3)
    axp.set_xlabel('ALD (normalised)', fontsize=37, color=AXC, labelpad=9)
    axp.set_ylabel('ISC (normalised)', fontsize=37, color='black', labelpad=7)
    axp.set_title(title, fontsize=36, fontweight='bold', pad=16)
    if legend:
        lg = axp.legend(handles=[h1, h2], loc='lower right', fontsize=32, frameon=True,
                        fancybox=False, framealpha=1, edgecolor=AXC, handlelength=1.0,
                        handletextpad=0.9, borderaxespad=0.6, borderpad=0.35, labelspacing=0.25)
        lg.get_frame().set_linewidth(1.3)

axL = px_axes(207, 723, 1457, 1701)
scatter_panel(axL, bang_narrative, bang_scrambled, fit_slopes['Bang'], fit_intercepts['Bang'],
              slope_labels['Bang'], (0.034, 5.33), (-0.68, 5.0), [0, 1, 2, 3, 4, 5], panel_titles[0], True)

axR = px_axes(1639, 723, 2888, 1701)
scatter_panel(axR, sophie_narrative, sophie_scrambled, fit_slopes['Sophie'], fit_intercepts['Sophie'],
              slope_labels['Sophie'], (0.097, 5.345), (-1.056, 5.0), [-1, 0, 1, 2, 3, 4, 5], panel_titles[1], False)

fig.savefig('out.png', dpi=100)
